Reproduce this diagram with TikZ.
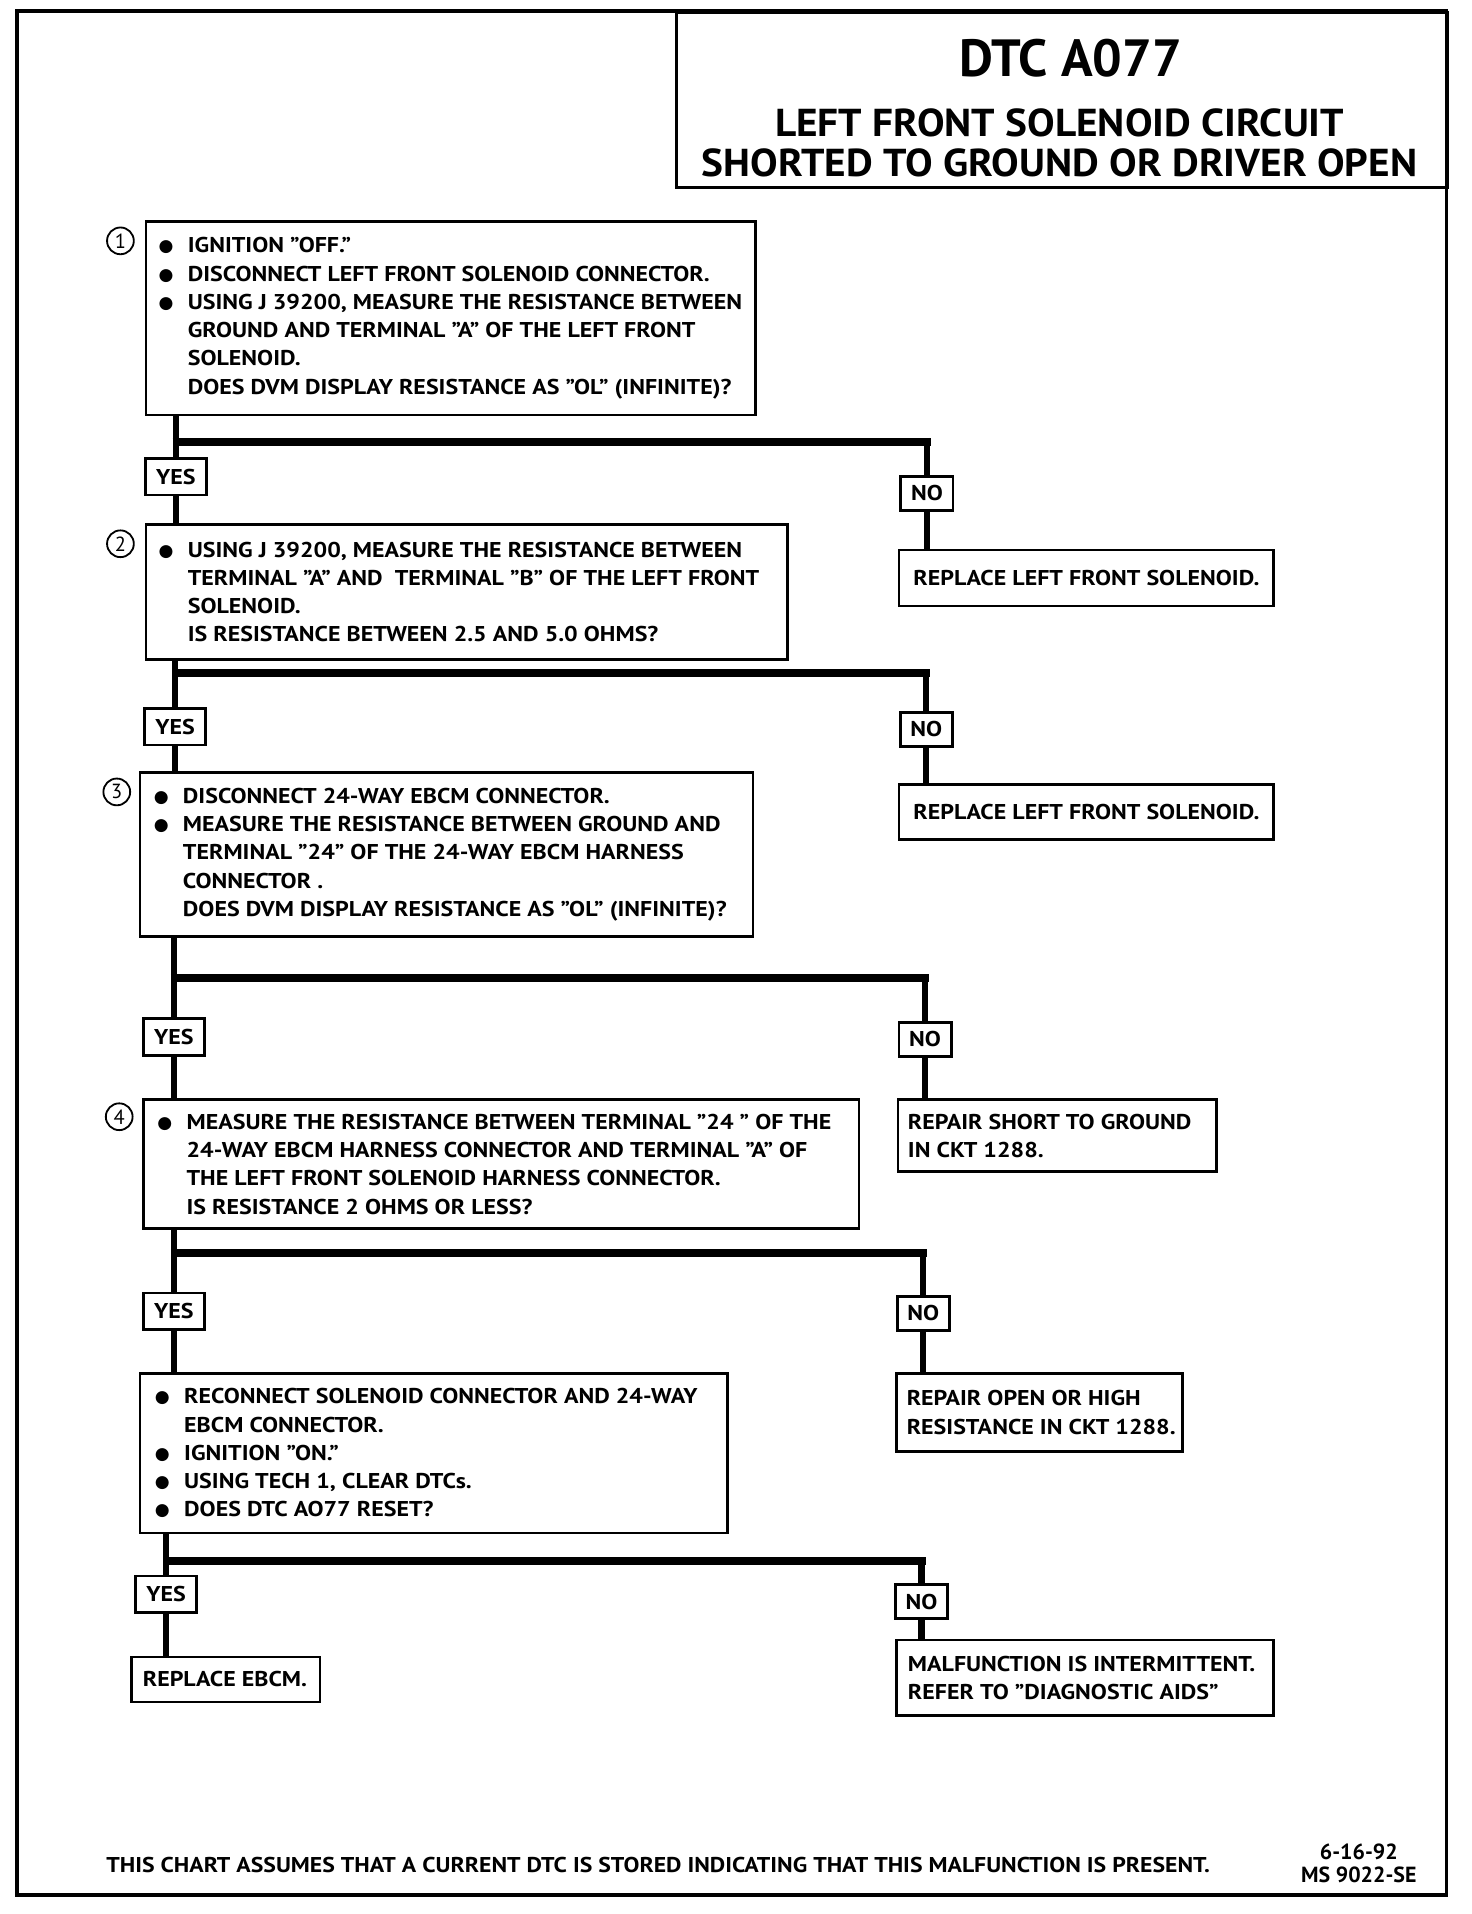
\documentclass[tikz,border=0pt]{standalone}
\usepackage{fontspec}
\setmainfont{PT Sans}
\newfontfamily\bodyfam[FakeStretch=1.12]{PT Sans}
\newfontfamily\titlefam[FakeStretch=1.06]{PT Sans}
\newfontfamily\footfam[FakeStretch=1.11]{PT Sans}
\newfontfamily\symfam{DejaVu Sans}
\usetikzlibrary{calc}
\newcommand\bodyf{\bodyfam\fontsize{8.8}{11.6}\selectfont\bfseries}
\newcommand\numf{\fontsize{8.4}{9}\selectfont}
\newcommand\Bul{\makebox[12pt][l]{{\symfam\fontsize{7}{8}\selectfont\raisebox{0.4pt}{●}}}}
\newcommand\Ind{\hspace*{12pt}}
\begin{document}
\begin{tikzpicture}[x=0.5pt,y=-0.5pt,
  box/.style={draw, line width=1.1pt, anchor=north west, inner sep=0pt},
  txt/.style={anchor=west, inner sep=0pt, align=left, font=\bodyf},
  ctxt/.style={inner sep=0pt, align=center, font=\bodyf},
  yn/.style={draw, line width=1.1pt, fill=white, inner sep=0pt, font=\bodyf},
  yesbox/.style={yn, minimum width=25pt, minimum height=15pt},
  nobox/.style={yn, minimum width=21.5pt, minimum height=14pt},
  num/.style={circle, draw, line width=0.75pt, minimum size=11pt, inner sep=0pt, font=\numf},
  trunk/.style={line width=2.5pt},
  bar/.style={line width=3.3pt},
]
\useasboundingbox (0,0) rectangle (1210,1573.4);
% outer frame and title
\draw[line width=1.5pt] (14,9) rectangle (1189,1558);
\node[box, line width=1.2pt, minimum width=317pt, minimum height=72pt] (title) at (555,9) {};
\node[font=\fontsize{21.5}{24}\selectfont\bfseries, inner sep=0pt] (t0) at (880,48) {DTC A077};
\node[font=\titlefam\fontsize{16}{18}\selectfont\bfseries, inner sep=0pt] (t1) at (871,101) {LEFT FRONT SOLENOID CIRCUIT};
\node[font=\titlefam\fontsize{16}{18}\selectfont\bfseries, inner sep=0pt] (t2) at (871,134) {SHORTED TO GROUND OR DRIVER OPEN};

% step boxes
\node[box, minimum width=250.5pt, minimum height=79.5pt] (b1) at (119,181) {};
\node[txt] (x1) at ($(b1.west)+(11,0)$) {\Bul IGNITION ”OFF.”\\
\Bul DISCONNECT LEFT FRONT SOLENOID CONNECTOR.\\
\Bul USING J 39200, MEASURE THE RESISTANCE BETWEEN\\
\Ind GROUND AND TERMINAL ”A” OF THE LEFT FRONT\\
\Ind SOLENOID.\\
\Ind DOES DVM DISPLAY RESISTANCE AS ”OL” (INFINITE)?};
\node[num] (c1) at (99,198) {1};

\node[box, minimum width=263.5pt, minimum height=55.5pt] (b2) at (119,430) {};
\node[txt] (x2) at ($(b2.west)+(11,0)$) {\Bul USING J 39200, MEASURE THE RESISTANCE BETWEEN\\
\Ind TERMINAL ”A” AND \ TERMINAL ”B” OF THE LEFT FRONT\\
\Ind SOLENOID.\\
\Ind IS RESISTANCE BETWEEN 2.5 AND 5.0 OHMS?};
\node[num] (c2) at (99,447) {2};

\node[box, minimum width=252pt, minimum height=67.5pt] (b3) at (114,634) {};
\node[txt] (x3) at ($(b3.west)+(12,0)$) {\Bul DISCONNECT 24-WAY EBCM CONNECTOR.\\
\Bul MEASURE THE RESISTANCE BETWEEN GROUND AND\\
\Ind TERMINAL ”24” OF THE 24-WAY EBCM HARNESS\\
\Ind CONNECTOR .\\
\Ind DOES DVM DISPLAY RESISTANCE AS ”OL” (INFINITE)?};
\node[num] (c3) at (96,651) {3};

\node[box, minimum width=294pt, minimum height=53pt] (b4) at (117,903) {};
\node[txt] (x4) at ($(b4.west)+(12,0)$) {\Bul MEASURE THE RESISTANCE BETWEEN TERMINAL ”24 ” OF THE\\
\Ind 24-WAY EBCM HARNESS CONNECTOR AND TERMINAL ”A” OF\\
\Ind THE LEFT FRONT SOLENOID HARNESS CONNECTOR.\\
\Ind IS RESISTANCE 2 OHMS OR LESS?};
\node[num] (c4) at (98,918) {4};

\node[box, minimum width=241.5pt, minimum height=65.5pt] (b5) at (114,1128) {};
\node[txt] (x5) at ($(b5.west)+(13,0)$) {\Bul RECONNECT SOLENOID CONNECTOR AND 24-WAY\\
\Ind EBCM CONNECTOR.\\
\Bul IGNITION ”ON.”\\
\Bul USING TECH 1, CLEAR DTCs.\\
\Bul DOES DTC AO77 RESET?};

% result boxes
\node[box, minimum width=154pt, minimum height=23pt] (r1) at (738,451) {};
\node[ctxt] (q1) at (r1.center) {REPLACE LEFT FRONT SOLENOID.};
\node[box, minimum width=154pt, minimum height=22.5pt] (r2) at (738,644) {};
\node[ctxt] (q2) at (r2.center) {REPLACE LEFT FRONT SOLENOID.};
\node[box, minimum width=131pt, minimum height=29.5pt] (r3) at (737,903) {};
\node[txt] (q3) at ($(r3.west)+(9,0)$) {REPAIR SHORT TO GROUND\\IN CKT 1288.};
\node[box, minimum width=117.5pt, minimum height=32pt] (r4) at (736,1128) {};
\node[txt] (q4) at ($(r4.west)+(9,0)$) {REPAIR OPEN OR HIGH\\RESISTANCE IN CKT 1288.};
\node[box, minimum width=77.5pt, minimum height=18.5pt] (r5) at (107,1361) {};
\node[txt] (q5) at ($(r5.west)+(10,0)$) {REPLACE EBCM.};
\node[box, minimum width=155pt, minimum height=31pt] (r6) at (736,1347) {};
\node[txt] (q6) at ($(r6.west)+(10,0)$) {MALFUNCTION IS INTERMITTENT.\\REFER TO ”DIAGNOSTIC AIDS”};

% yes / no boxes
\node[yesbox] (y1) at (144.5,392) {YES};
\node[yesbox] (y2) at (144,597.5) {YES};
\node[yesbox] (y3) at (143,852.5) {YES};
\node[yesbox] (y4) at (143,1078) {YES};
\node[yesbox] (y5) at (136.5,1310.5) {YES};
\node[nobox] (n1) at (762,405.5) {NO};
\node[nobox] (n2) at (761.5,599.5) {NO};
\node[nobox] (n3) at (760.5,854.5) {NO};
\node[nobox] (n4) at (759,1079.5) {NO};
\node[nobox] (n5) at (757.5,1316.5) {NO};

% junction coordinates
\coordinate (j1) at (144.5,363); \coordinate (k1) at (762,363);
\coordinate (j2) at (144,553);   \coordinate (k2) at (761.5,553);
\coordinate (j3) at (143,804);   \coordinate (k3) at (760.5,804);
\coordinate (j4) at (143,1030);  \coordinate (k4) at (759,1030);
\coordinate (j5) at (136.5,1283);\coordinate (k5) at (757.5,1283);

% connectors
\foreach \i/\nxt/\res in {1/b2/r1,2/b3/r2,3/b4/r3,4/b5/r4,5/r5/r6}{
  \draw[trunk] (b\i.south -| y\i) -- (y\i.north);
  \draw[trunk] (y\i.south) -- (\nxt.north -| y\i);
  \draw[bar] ($(j\i)+(-2.5,0)$) -- ($(k\i)+(3.3,0)$);
  \draw[trunk] ($(k\i)+(0,-3)$) -- (n\i.north);
  \draw[trunk] (n\i.south) -- (\res.north -| n\i);
}

% footer
\node[font=\footfam\fontsize{8.8}{11}\selectfont\bfseries, inner sep=0pt] (foot) at (541,1533) {THIS CHART ASSUMES THAT A CURRENT DTC IS STORED INDICATING THAT THIS MALFUNCTION IS PRESENT.};
\node[font=\fontsize{9}{10}\selectfont\bfseries, inner sep=0pt] (d1) at (1117,1522) {6-16-92};
\node[font=\fontsize{9}{10}\selectfont\bfseries, inner sep=0pt] (d2) at (1117,1541) {MS 9022-SE};
\end{tikzpicture}
\end{document}
